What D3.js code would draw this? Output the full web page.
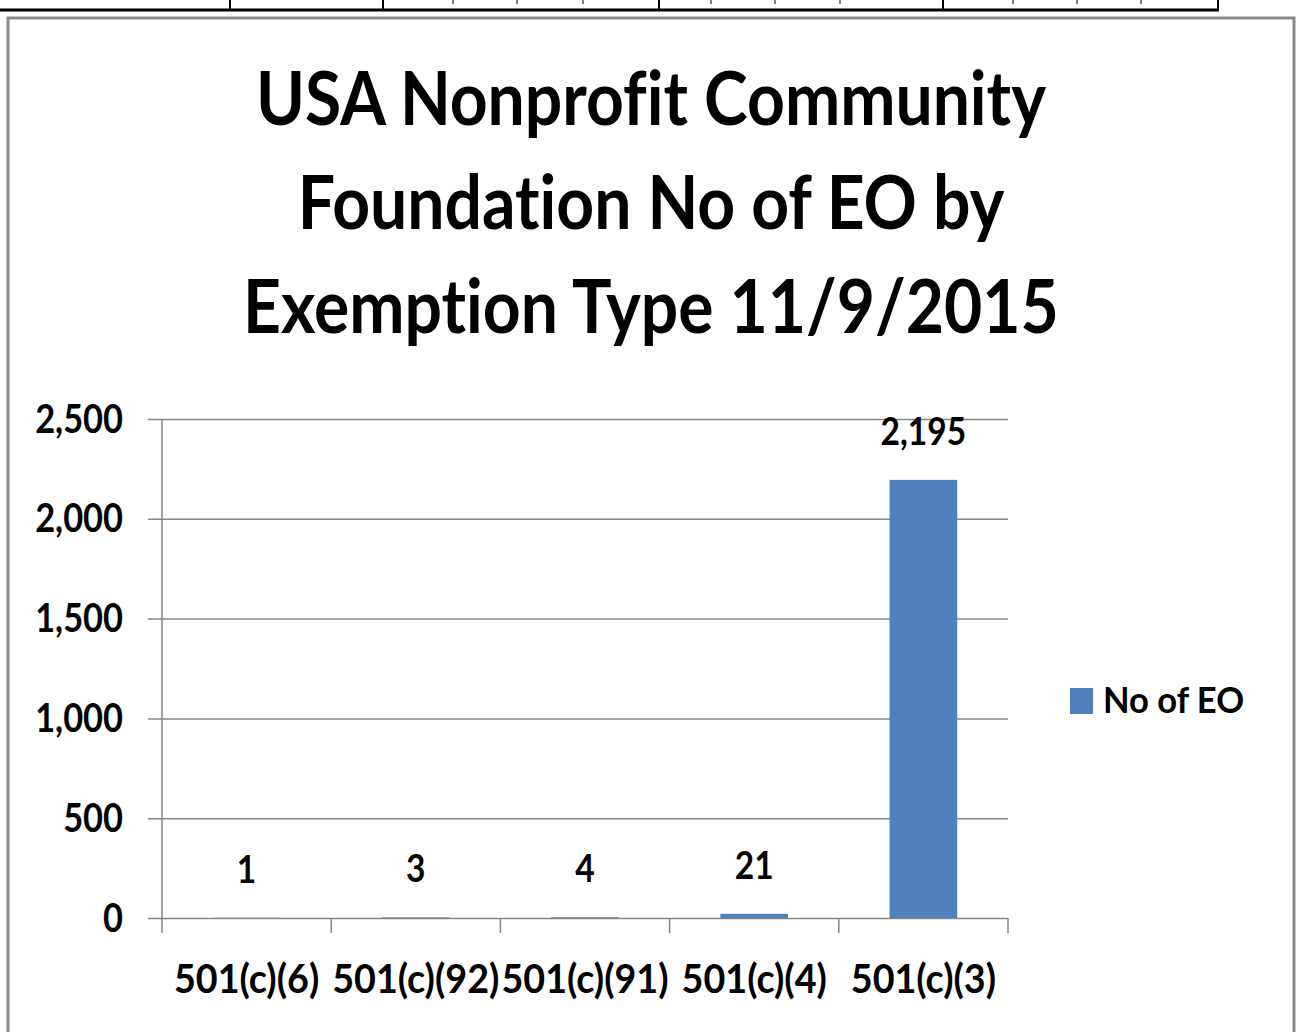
<!DOCTYPE html>
<html>
<head>
<meta charset="utf-8">
<script src="https://cdn.jsdelivr.net/npm/d3@7"></script>
<style>
  body { margin: 0; background: #fff; }
  svg { display: block; }
  text { font-family: Lato, "Open Sans", sans-serif; font-weight: bold; fill: #000; font-variant-ligatures: none; }
</style>
</head>
<body>
<div id="chart"></div>
<script>
// data
const titleLines = ["USA Nonprofit Community", "Foundation No of EO by", "Exemption Type 11/9/2015"];
const categories = ["501(c)(6)", "501(c)(92)", "501(c)(91)", "501(c)(4)", "501(c)(3)"];
const counts = [1, 3, 4, 21, 2195];
const yTicks = [0, 500, 1000, 1500, 2000, 2500];
const seriesName = "No of EO";

(function bars() {
  let width = 1297,
      height = 1032,
      margin = ({ top: 419, right: 289, bottom: 114, left: 162 }),
      sx = 0.86; // text is squeezed horizontally like the original

  const svg = d3.select("#chart")
    .append("svg")
    .attr("width", width)
    .attr("height", height);

  // bit of the table above the chart
  const tbl = svg.append("g").attr("stroke", "#000");
  tbl.append("line").attr("x1", 0).attr("x2", 1219).attr("y1", 10).attr("y2", 10).attr("stroke-width", 3);
  for (let vx of [230, 383, 659, 943, 1218]) {
    tbl.append("line").attr("x1", vx).attr("x2", vx).attr("y1", 0).attr("y2", 11).attr("stroke-width", 2);
  }
  for (let vx of [453, 517, 583, 711, 775, 840, 1013, 1077, 1141]) {
    tbl.append("line").attr("x1", vx).attr("x2", vx).attr("y1", 0).attr("y2", 4).attr("stroke-width", 1);
  }

  // chart frame
  svg.append("rect")
    .attr("x", 8).attr("y", 18)
    .attr("width", 1286).attr("height", 1030)
    .attr("fill", "#fff")
    .attr("stroke", "#8a8a8a")
    .attr("stroke-width", 3);

  // title
  svg.append("g")
    .selectAll("text")
    .data(titleLines)
    .join("text")
    .attr("transform", (d, i) => `translate(651,${125 + i * 104}) scale(0.88,1)`)
    .attr("text-anchor", "middle")
    .attr("font-size", 75)
    .text(d => d);

  let x = d3.scaleBand()
    .domain(categories)
    .range([margin.left, width - margin.right])
    .paddingInner(0.6)
    .paddingOuter(0.3);

  let y = d3.scaleLinear()
    .domain([0, 2500])
    .range([height - margin.bottom, margin.top]);

  // gridlines + y ticks
  let yAxis = svg.append("g")
    .attr("transform", `translate(${margin.left - 14},0)`)
    .call(d3.axisLeft(y).tickValues(yTicks).tickSize(-(width - margin.right - margin.left + 14)).tickPadding(25).tickFormat(d3.format(",")));
  yAxis.select(".domain").remove();
  yAxis.selectAll("line").attr("stroke", "#878787").attr("stroke-width", 1.5);
  yAxis.selectAll("text")
    .attr("x", null).attr("dy", null)
    .attr("transform", `translate(-25,13) scale(${sx},1)`)
    .attr("font-size", 40)
    .attr("font-family", "Lato")
    .attr("fill", "#000");

  // y axis line
  svg.append("line")
    .attr("x1", margin.left).attr("x2", margin.left)
    .attr("y1", y(2500)).attr("y2", y(0))
    .attr("stroke", "#878787").attr("stroke-width", 1.5);

  // x axis tick marks at band edges
  let edges = d3.range(categories.length + 1).map(i => x.range()[0] + i * x.step());
  svg.append("g")
    .selectAll("line")
    .data(edges)
    .join("line")
    .attr("x1", d => d).attr("x2", d => d)
    .attr("y1", y(0)).attr("y2", y(0) + 15)
    .attr("stroke", "#878787").attr("stroke-width", 1.5);

  // bars
  svg.append("g")
    .selectAll("rect")
    .data(counts)
    .join("rect")
    .attr("x", (d, i) => x(categories[i]))
    .attr("y", d => y(d))
    .attr("width", x.bandwidth())
    .attr("height", d => y(0) - y(d))
    .attr("fill", "#4f81bd");

  // value labels
  svg.append("g")
    .selectAll("text")
    .data(counts)
    .join("text")
    .attr("transform", (d, i) => `translate(${x(categories[i]) + x.bandwidth() / 2},${y(d) - 35}) scale(${sx},1)`)
    .attr("text-anchor", "middle")
    .attr("font-size", 39)
    .text(d => d3.format(",")(d));

  // category labels
  let xAxis = svg.append("g")
    .attr("transform", `translate(0,${y(0)})`)
    .call(d3.axisBottom(x).tickSize(0));
  xAxis.select(".domain").remove();
  xAxis.selectAll("text")
    .attr("y", null).attr("dy", null)
    .attr("transform", `translate(0,75) scale(0.92,1)`)
    .attr("font-size", 41)
    .attr("font-family", "Lato")
    .attr("fill", "#000");

  // legend
  svg.append("rect")
    .attr("x", 1070).attr("y", 688)
    .attr("width", 23).attr("height", 26)
    .attr("fill", "#4f81bd");
  svg.append("text")
    .attr("transform", `translate(1103,713) scale(0.96,1)`)
    .attr("font-size", 36)
    .text(seriesName);
})();
</script>
</body>
</html>
